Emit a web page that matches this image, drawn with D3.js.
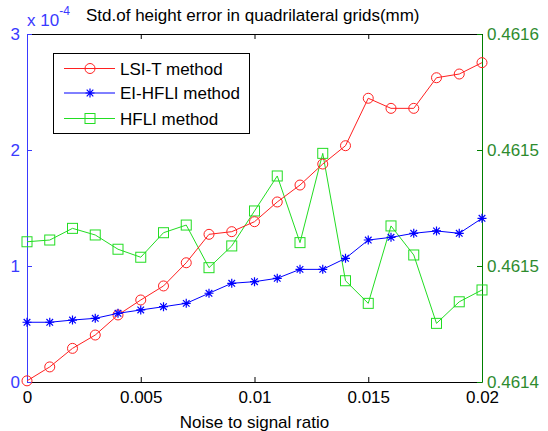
<!DOCTYPE html>
<html><head><meta charset="utf-8">
<script src="https://cdn.jsdelivr.net/npm/d3@7"></script>
<style>body{margin:0;background:#fff}svg{display:block;font-family:"Liberation Sans",Arial,sans-serif}</style>
</head><body>
<script>
const nsr = [0,0.001,0.002,0.003,0.004,0.005,0.006,0.007,0.008,0.009,0.010,0.011,0.012,0.013,0.014,0.015,0.016,0.017,0.018,0.019,0.020];
const lsiT = [0.01,0.13,0.29,0.405,0.578,0.707,0.828,1.028,1.273,1.296,1.382,1.552,1.698,1.879,2.037,2.446,2.359,2.359,2.623,2.655,2.753];
const eiHfli = [0.515,0.515,0.534,0.549,0.592,0.621,0.649,0.678,0.765,0.851,0.865,0.894,0.971,0.971,1.066,1.224,1.247,1.282,1.302,1.282,1.411];
const hfli = [0.4614806,0.4614816,0.4614883,0.4614845,0.4614763,0.4614717,0.4614858,0.4614902,0.4614657,0.4614782,0.4614983,0.4615184,0.4614801,0.4615314,0.4614582,0.4614452,0.4614897,0.4614730,0.4614337,0.4614461,0.4614529];
const xTicks = [0,0.005,0.01,0.015,0.02];
const xTickLabels = ["0","0.005","0.01","0.015","0.02"];
const leftTicks = [0,1,2,3];
const rightTicks = [0.4614,0.46146667,0.46153333,0.4616];
const seriesNames = ["LSI-T method","EI-HFLI method","HFLI method"];

const W=548,H=431;
const L=27,R=482,T=34,B=382;
const svg=d3.select("body").append("svg").attr("width",W).attr("height",H);
const x=d3.scaleLinear().domain([0,0.02]).range([L,R]);
const yL=d3.scaleLinear().domain([0,3]).range([B,T]);
const yR=d3.scaleLinear().domain([0.4614,0.4616]).range([B,T]);

const blueAx="#3a3aff", greenAx="#2e8b2e", greenLine="#008000";
const fs=17;
const ff='"Liberation Sans",Arial';

// bottom axis
const gx=svg.append("g").attr("transform",`translate(0,${B})`)
  .call(d3.axisBottom(x).tickValues(xTicks).tickFormat((d,i)=>xTickLabels[i]).tickSizeInner(-5).tickSizeOuter(0).tickPadding(9));
gx.select(".domain").attr("stroke","#000");
gx.selectAll("line").attr("stroke","#000");
gx.selectAll("text").attr("fill","#000").style("font-size",fs+"px").style("font-family",ff);
// top axis
const gt=svg.append("g").attr("transform",`translate(0,${T})`)
  .call(d3.axisTop(x).tickValues(xTicks).tickFormat("").tickSizeInner(-5).tickSizeOuter(0));
gt.selectAll("path,line").attr("stroke","#000");

// left axis
const gl=svg.append("g").attr("transform",`translate(${L},0)`)
  .call(d3.axisLeft(yL).tickValues(leftTicks).tickFormat(d3.format("d")).tickSizeInner(-5).tickSizeOuter(0).tickPadding(7));
gl.selectAll("path,line").attr("stroke",blueAx);
gl.selectAll("text").attr("fill",blueAx).style("font-size",fs+"px").style("font-family",ff);

// right axis
const gr=svg.append("g").attr("transform",`translate(${R},0)`)
  .call(d3.axisRight(yR).tickValues(rightTicks).tickFormat(d3.format(".4f")).tickSizeInner(-5).tickSizeOuter(0).tickPadding(5));
gr.selectAll("path,line").attr("stroke",greenLine);
gr.selectAll("text").attr("fill",greenAx).style("font-size",fs+"px").style("font-family",ff);

// exponent label
const ex=svg.append("text").attr("x",27).attr("y",26).attr("fill",blueAx).style("font-size","17px");
ex.append("tspan").text("x 10");
ex.append("tspan").attr("dy",-11).style("font-size","12px").text("-4");

// title
svg.append("text").attr("x",86).attr("y",21).attr("fill","#000").style("font-size","17px")
  .text("Std.of height error in quadrilateral grids(mm)");
// x label
svg.append("text").attr("x",(L+R)/2).attr("y",428).attr("text-anchor","middle").attr("fill","#000").style("font-size","17px")
  .text("Noise to signal ratio");

const colors=["#ff2020","#0000ff","#22dd22"];
const lineL=d3.line().x((d,i)=>x(nsr[i])).y(d=>yL(d));
const lineR=d3.line().x((d,i)=>x(nsr[i])).y(d=>yR(d));

function marker(g,type,cx,cy,col){
  if(type==="o") g.append("circle").attr("cx",cx).attr("cy",cy).attr("r",5).attr("fill","none").attr("stroke",col).attr("stroke-width",1);
  else if(type==="s") g.append("rect").attr("x",cx-5).attr("y",cy-5).attr("width",10).attr("height",10).attr("fill","none").attr("stroke",col).attr("stroke-width",1);
  else {
    const s=4.5,d=3.3;
    g.append("path").attr("d",`M${cx-s},${cy}H${cx+s}M${cx},${cy-s}V${cy+s}M${cx-d},${cy-d}L${cx+d},${cy+d}M${cx-d},${cy+d}L${cx+d},${cy-d}`)
      .attr("stroke",col).attr("stroke-width",1.2).attr("fill","none");
  }
}

const plot=svg.append("g");
// HFLI (right axis)
plot.append("path").datum(hfli).attr("d",lineR).attr("fill","none").attr("stroke",colors[2]).attr("stroke-width",1);
hfli.forEach((v,i)=>marker(plot,"s",x(nsr[i]),yR(v),colors[2]));
// LSI-T
plot.append("path").datum(lsiT).attr("d",lineL).attr("fill","none").attr("stroke",colors[0]).attr("stroke-width",1);
lsiT.forEach((v,i)=>marker(plot,"o",x(nsr[i]),yL(v),colors[0]));
// EI-HFLI
plot.append("path").datum(eiHfli).attr("d",lineL).attr("fill","none").attr("stroke",colors[1]).attr("stroke-width",1);
eiHfli.forEach((v,i)=>marker(plot,"*",x(nsr[i]),yL(v),colors[1]));

// legend
const lg=svg.append("g");
lg.append("rect").attr("x",53.5).attr("y",53.5).attr("width",196).attr("height",80).attr("fill","#fff").attr("stroke","#000").attr("stroke-width",1);
const types=["o","*","s"];
const rowY=[68.5,93,118.5];
seriesNames.forEach((n,i)=>{
  lg.append("line").attr("x1",64).attr("x2",115).attr("y1",rowY[i]).attr("y2",rowY[i]).attr("stroke",colors[i]);
  marker(lg,types[i],90,rowY[i],colors[i]);
  lg.append("text").attr("x",120).attr("y",rowY[i]+6).attr("fill","#000").style("font-size","17px").text(n);
});
</script>
</body></html>
